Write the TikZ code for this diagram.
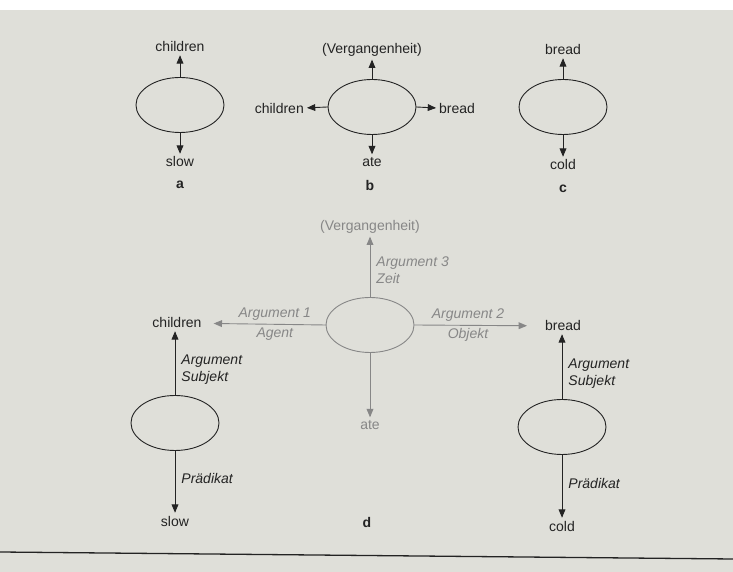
\documentclass[tikz,border=0pt]{standalone}
\usepackage{fontspec}
\setmainfont{Liberation Sans}
\usetikzlibrary{arrows,shapes.geometric}

\definecolor{page}{RGB}{223,223,217}
\definecolor{ink}{RGB}{35,35,35}
\definecolor{faint}{RGB}{135,135,135}

\begin{document}
\begin{tikzpicture}[line cap=round,line join=round,>=triangle 45,x=1pt,y=1pt,
  every node/.style={font=\fontsize{14}{17}\selectfont,inner sep=3pt,text=ink},
  ell/.style={ellipse,draw=ink,line width=0.9pt,minimum width=88pt,minimum height=55pt,inner sep=0pt},
  ellfaint/.style={ell,draw=faint},
  link/.style={->,draw=ink,line width=0.9pt},
  linkfaint/.style={->,draw=faint,line width=0.9pt},
  wordfaint/.style={text=faint},
  lab/.style={font=\fontsize{14}{17}\selectfont\itshape,align=left,inner sep=1pt},
  tag/.style={font=\fontsize{14}{17}\selectfont\bfseries}]
\useasboundingbox (0,0) rectangle (733,572);
\fill[page] (0,0) rectangle (733,562);
\draw[ink,line width=1.3pt] (0,20) -- (733,13);
% a
\node[ell] (ea) at (180,467) {};
\node (ea1) at (180,525) {children};
\node (ea2) at (180,410) {slow};
\node[tag] (ta) at (180,387) {a};
\draw[link] (ea.north) -- (ea1);
\draw[link] (ea.south) -- (ea2);
% b
\node[ell] (eb) at (372,465) {};
\node (eb1) at (372,522) {(Vergangenheit)};
\node[anchor=east] (eb2) at (307,463) {children};
\node[anchor=west] (eb3) at (436,463) {bread};
\node (eb4) at (372,410) {ate};
\node[tag] (tb) at (370,386) {b};
\draw[link] (eb.north) -- (eb1);
\draw[link] (eb.west) -- (eb2);
\draw[link] (eb.east) -- (eb3);
\draw[link] (eb.south) -- (eb4);
% c
\node[ell] (ec) at (563,465) {};
\node (ec1) at (563,522) {bread};
\node (ec2) at (563,407) {cold};
\node[tag] (tc) at (563,383) {c};
\draw[link] (ec.north) -- (ec1);
\draw[link] (ec.south) -- (ec2);
% d
\node[ellfaint] (ed) at (370,247) {};
\node[wordfaint] (ed1) at (370,345) {(Vergangenheit)};
\node[wordfaint] (ed2) at (370,147) {ate};
\node (dl) at (177,249) {children};
\node (dr) at (563,246) {bread};
\draw[linkfaint] (ed.north) -- node[lab,wordfaint,right=5pt,pos=.45] {Argument 3\\Zeit} (ed1);
\draw[linkfaint] (ed.south) -- (ed2);
\draw[linkfaint,shorten >=9pt] (ed.west) -- node[lab,wordfaint,above=2pt,pos=.42] {Argument 1}
  node[lab,wordfaint,below=2pt,pos=.42] {Agent} (dl);
\draw[linkfaint,shorten >=15pt] (ed.east) -- node[lab,wordfaint,above=2pt,pos=.42] {Argument 2}
  node[lab,wordfaint,below=2pt,pos=.42] {Objekt} (dr);
% d, links
\node[ell] (el) at (175,149) {};
\node (el1) at (175,51) {slow};
\draw[link] (el.north) -- node[lab,right=5pt,pos=.4] {Argument\\Subjekt} (dl.south -| el.north);
\draw[link] (el.south) -- node[lab,right=5pt,pos=.45] {Prädikat} (el1);
% d, rechts
\node[ell] (er) at (562,145) {};
\node (er1) at (562,46) {cold};
\draw[link] (er.north) -- node[lab,right=5pt,pos=.4] {Argument\\Subjekt} (dr.south -| er.north);
\draw[link] (er.south) -- node[lab,right=5pt,pos=.45] {Prädikat} (er1);
\node[tag] (td) at (367,50) {d};
\end{tikzpicture}
\end{document}
